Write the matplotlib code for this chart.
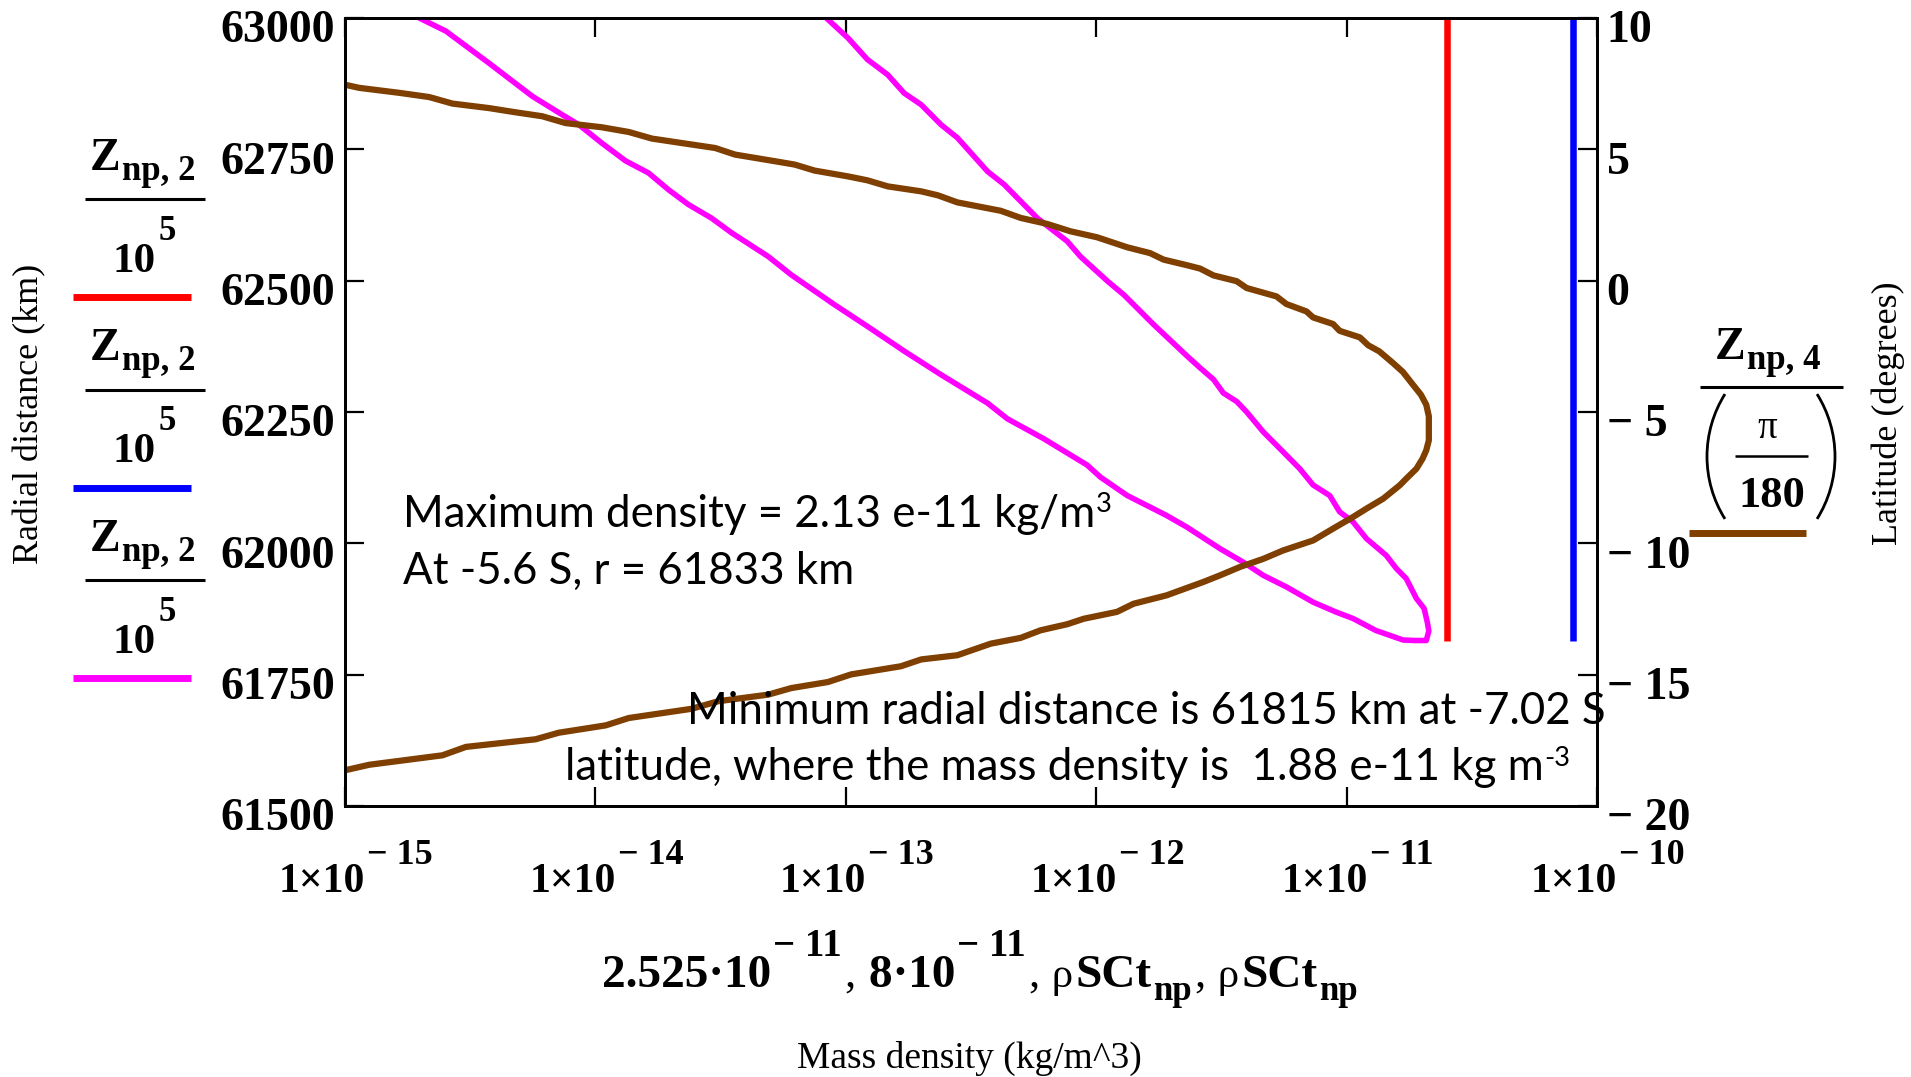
import matplotlib
matplotlib.use('Agg')
import matplotlib.pyplot as plt
from matplotlib.transforms import IdentityTransform, ScaledTranslation
from matplotlib.lines import Line2D
from matplotlib.patches import Arc
from matplotlib.ticker import NullLocator

# ---------------- data ----------------
# magenta trace: mass density along the trajectory vs radial distance (km)
magenta_rho = [1.98e-15, 2.53e-15, 3.76e-15, 5.60e-15, 7.36e-15, 8.58e-15, 1.06e-14, 1.32e-14,
               1.63e-14, 1.96e-14, 2.35e-14, 2.91e-14, 3.50e-14, 4.90e-14, 6.06e-14, 9.03e-14,
               1.22e-13, 1.71e-13, 2.40e-13, 3.68e-13, 4.42e-13, 6.18e-13, 9.20e-13, 1.04e-12,
               1.33e-12, 1.91e-12, 2.30e-12, 3.12e-12, 3.87e-12, 4.65e-12, 5.75e-12, 7.35e-12,
               9.10e-12, 1.06e-11, 1.31e-11, 1.68e-11, 1.88e-11, 2.08e-11, 2.13e-11, 2.10e-11,
               2.04e-11, 1.90e-11, 1.73e-11, 1.58e-11, 1.44e-11, 1.20e-11, 1.06e-11, 9.38e-12,
               8.56e-12, 7.35e-12, 6.50e-12, 5.58e-12, 4.65e-12, 3.99e-12, 3.64e-12, 3.22e-12,
               2.94e-12, 2.60e-12, 2.30e-12, 1.70e-12, 1.29e-12, 1.11e-12, 8.65e-13, 7.66e-13,
               5.82e-13, 4.29e-13, 3.68e-13, 2.79e-13, 2.40e-13, 2.00e-13, 1.71e-13, 1.47e-13,
               1.22e-13, 1.02e-13, 8.36e-14]
magenta_r = [63000, 62975, 62914, 62851, 62816, 62797, 62762, 62728, 62705, 62673, 62645, 62619,
             62591, 62546, 62511, 62454, 62413, 62366, 62321, 62267, 62237, 62199, 62149, 62126,
             62091, 62053, 62031, 61990, 61964, 61939, 61917, 61888, 61869, 61857, 61834, 61816,
             61815, 61815, 61833, 61850, 61876, 61895, 61933, 61952, 61977, 62009, 62041, 62060,
             62091, 62111, 62142, 62174, 62212, 62250, 62270, 62286, 62312, 62334, 62357, 62416,
             62473, 62499, 62546, 62575, 62619, 62683, 62708, 62772, 62797, 62835, 62857, 62892,
             62921, 62962, 63000]

# brown trace: mass density vs latitude (degrees), right axis
brown_rho = [1.0e-15, 1.14e-15, 1.65e-15, 2.17e-15, 2.69e-15, 3.76e-15, 4.80e-15, 6.13e-15,
             7.60e-15, 1.06e-14, 1.36e-14, 1.68e-14, 2.21e-14, 3.01e-14, 3.61e-14, 4.90e-14,
             6.25e-14, 7.51e-14, 1.02e-13, 1.22e-13, 1.47e-13, 2.00e-13, 2.33e-13, 2.79e-13,
             4.16e-13, 4.99e-13, 6.37e-13, 7.89e-13, 1.01e-12, 1.33e-12, 1.64e-12, 1.86e-12,
             2.30e-12, 2.60e-12, 2.94e-12, 3.64e-12, 3.99e-12, 5.25e-12, 5.75e-12, 6.91e-12,
             7.35e-12, 8.83e-12, 9.38e-12, 1.13e-11, 1.22e-11, 1.35e-11, 1.53e-11, 1.68e-11,
             1.84e-11, 1.98e-11, 2.08e-11, 2.13e-11, 2.13e-11, 2.08e-11, 2.01e-11, 1.90e-11,
             1.73e-11, 1.63e-11, 1.40e-11, 1.20e-11, 1.06e-11, 8.83e-12, 7.35e-12, 5.58e-12,
             4.65e-12, 3.75e-12, 3.12e-12, 2.68e-12, 2.30e-12, 1.91e-12, 1.41e-12, 1.21e-12,
             8.93e-13, 7.66e-13, 6.00e-13, 4.99e-13, 3.79e-13, 2.79e-13, 2.00e-13, 1.66e-13,
             1.05e-13, 8.49e-14, 6.06e-14, 4.90e-14, 3.10e-14, 2.42e-14, 1.36e-14, 1.10e-14,
             7.14e-15, 5.77e-15, 3.04e-15, 2.45e-15, 1.25e-15, 1.0e-15]
brown_lat = [7.46, 7.34, 7.15, 6.99, 6.74, 6.57, 6.41, 6.26, 6.00, 5.84, 5.66, 5.41, 5.24, 5.05,
             4.80, 4.59, 4.42, 4.19, 3.97, 3.82, 3.59, 3.40, 3.25, 2.98, 2.66, 2.39, 2.16, 1.88,
             1.65, 1.27, 1.05, 0.80, 0.59, 0.46, 0.20, -0.02, -0.28, -0.60, -0.89, -1.17, -1.40,
             -1.65, -1.91, -2.16, -2.46, -2.69, -3.13, -3.48, -3.96, -4.34, -4.72, -5.16, -6.08,
             -6.46, -6.78, -7.16, -7.54, -7.79, -8.30, -8.68, -9.00, -9.44, -9.89, -10.27,
             -10.59, -10.90, -11.22, -11.47, -11.70, -11.98, -12.30, -12.61, -12.87, -13.08,
             -13.31, -13.60, -13.82, -14.26, -14.42, -14.68, -14.99, -15.28, -15.51, -15.76,
             -16.01, -16.30, -16.65, -16.93, -17.21, -17.46, -17.75, -18.07, -18.43, -18.64]

# constant-density reference traces (red and blue), from r_min upward
red_rho = 2.525e-11
blue_rho = 8e-11
const_r = [61815, 63000]

x_ticks = [1e-15, 1e-14, 1e-13, 1e-12, 1e-11, 1e-10]
x_tick_exps = [-15, -14, -13, -12, -11, -10]
r_ticks = [61500, 61750, 62000, 62250, 62500, 62750, 63000]
lat_ticks = [-20, -15, -10, -5, 0, 5, 10]

ann_lines = ["Maximum density = 2.13 e-11 kg/m",
             "At -5.6 S, r = 61833 km",
             "Minimum radial distance is 61815 km at -7.02 S",
             "latitude, where the mass density is  1.88 e-11 kg m"]

# ---------------- figure ----------------
W, H = 1911, 1077
SERIF = 'Liberation Serif'
SANS = 'Lato'
MAG, BRN, RED, BLU = '#FF00FF', '#7F3F00', '#FF0000', '#0000FF'

fig = plt.figure(figsize=(W / 100, H / 100), dpi=100)
ax = fig.add_axes([345 / W, 1 - 806 / H, (1597 - 345) / W, (806 - 18) / H])
ax.set_xscale('log')
ax2 = ax.twinx()

ax.plot(magenta_rho, magenta_r, color=MAG, lw=4.0, solid_joinstyle='round', zorder=3)
ax.plot([red_rho, red_rho], const_r, color=RED, lw=4.7, solid_capstyle='butt', zorder=3)
ax.plot([blue_rho, blue_rho], const_r, color=BLU, lw=4.7, solid_capstyle='butt', zorder=3)
ax2.plot(brown_rho, brown_lat, color=BRN, lw=4.5, solid_joinstyle='round')

ax.set_xlim(1e-15, 1e-10)
ax.set_ylim(61500, 63000)
ax2.set_ylim(-20, 10)

ax.set_xticks(x_ticks)
ax.set_xticklabels([''] * len(x_ticks))
ax.xaxis.set_minor_locator(NullLocator())
ax.set_yticks(r_ticks)
ax.set_yticklabels([str(v) for v in r_ticks], fontsize=33, fontweight='bold', family=SERIF)
ax2.set_yticks(lat_ticks)
ax2.set_yticklabels([(u"\u2212 %d" % abs(v)) if v < 0 else str(v) for v in lat_ticks],
                    fontsize=33, fontweight='bold', family=SERIF)

ax.tick_params(axis='x', which='major', direction='in', length=14, width=1.6,
               top=True, bottom=True)
ax.tick_params(axis='y', direction='in', length=14, width=1.6, left=True, right=False, pad=7)
ax2.tick_params(axis='y', direction='in', length=14, width=1.6, right=True, left=False, pad=7)
for a in (ax, ax2):
    for sp in a.spines.values():
        sp.set_linewidth(2.0)

shift = ScaledTranslation(0, -0.085, fig.dpi_scale_trans)
for lab in ax.get_yticklabels() + ax2.get_yticklabels():
    lab.set_transform(lab.get_transform() + shift)

renderer = fig.canvas.get_renderer()
IDT = IdentityTransform()


def rich(x, y, pieces, ha='left', gap=0.0):
    """pieces: (text, size, rise_px, weight, family); y = baseline (px from top)."""
    made = []
    cur = 0.0
    for s, fs, rise, wt, fam in pieces:
        t = fig.text(0, H - y + rise, s, transform=IDT, fontsize=fs, fontweight=wt,
                     family=fam, va='baseline', ha='left', zorder=5)
        w = t.get_window_extent(renderer).width
        made.append((t, cur))
        cur += w + gap
    total = cur - gap
    x0 = x - total / 2 if ha == 'center' else x
    for t, c in made:
        t.set_x(x0 + c)
    return made


def hline(x0, x1, y, color, lw):
    fig.add_artist(Line2D([x0, x1], [H - y, H - y], transform=IDT, color=color, lw=lw,
                          solid_capstyle='butt'))


# x tick labels 1x10^-n
for v, e in zip(x_ticks, x_tick_exps):
    xd = ax.transData.transform((v, 61500))[0]
    rich(xd + 11, 892, [(u"1\u00d710", 30, 0, 'bold', SERIF),
                        (u"\u2212 %d" % abs(e), 26, 28, 'bold', SERIF)], ha='center', gap=2)

# x expression label
rich(602, 987, [(u"2.525\u00b710", 34, 0, 'bold', SERIF), (u"\u2212 11", 28, 31, 'bold', SERIF),
                (",", 32, 0, 'normal', SERIF), (u" 8\u00b710", 34, 0, 'bold', SERIF),
                (u"\u2212 11", 28, 31, 'bold', SERIF), (",", 32, 0, 'normal', SERIF),
                (u" \u03c1", 31, 0, 'normal', SERIF), ("SCt", 34, 0, 'bold', SERIF),
                ("np", 25, -13, 'bold', SERIF), (",", 32, 0, 'normal', SERIF),
                (u" \u03c1", 31, 0, 'normal', SERIF), ("SCt", 34, 0, 'bold', SERIF),
                ("np", 25, -13, 'bold', SERIF)], gap=2)

# axis titles
fig.text(969 / W, 1 - 1058 / H, "Mass density (kg/m^3)", ha='center', va='center',
         fontsize=27, family=SERIF)
fig.text(30 / W, 1 - 414 / H, "Radial distance (km)", ha='center', va='center',
         rotation=90, fontsize=26, family=SERIF)
fig.text(1888 / W, 1 - 413 / H, "Latitude (degrees)", ha='center', va='center',
         rotation=90, fontsize=26, family=SERIF)

# left trace labels (Z_np,2 / 10^5) with colour samples
for i, col in enumerate([RED, BLU, MAG]):
    dy = i * 190.5
    rich(90, 170 + dy, [("Z", 33, 0, 'bold', SERIF), ("np, 2", 25, -10, 'bold', SERIF)], gap=1)
    hline(85, 205, 199 + dy, 'black', 2.2)
    rich(113, 272 + dy, [("10", 31, 0, 'bold', SERIF), ("5", 25, 32, 'bold', SERIF)], gap=2)
    hline(73, 191, 297 + dy, col, 5.0)

# right trace label (Z_np,4 / (pi/180))
rich(1715, 359, [("Z", 33, 0, 'bold', SERIF), ("np, 4", 25, -10, 'bold', SERIF)], gap=1)
hline(1700, 1843, 386.5, 'black', 2.2)
rich(1767, 438, [(u"\u03c0", 28, 0, 'normal', SERIF)], ha='center')
hline(1735, 1808, 456, 'black', 1.8)
rich(1772, 507, [("180", 32, 0, 'bold', SERIF)], ha='center')
R_par = 117.5
fig.add_artist(Arc((1707 + R_par, H - 456.5), 2 * R_par, 2 * R_par, theta1=147.9, theta2=212.1,
                   transform=IDT, lw=2.0, color='black'))
fig.add_artist(Arc((1835 - R_par, H - 456.5), 2 * R_par, 2 * R_par, theta1=-32.1, theta2=32.1,
                   transform=IDT, lw=2.0, color='black'))
hline(1689, 1806, 533, BRN, 5.0)

# annotations (Calibri-like sans)
probe = fig.text(0, 0, ann_lines[2], fontsize=30, family=SANS, transform=IDT)
ann_fs = 30 * 916 / probe.get_window_extent(renderer).width
probe.remove()
rich(403, 527, [(ann_lines[0], ann_fs, 0, 'normal', SANS), ("3", ann_fs * 0.62, 15, 'normal', SANS)],
     gap=1)
rich(403, 584, [(ann_lines[1], ann_fs, 0, 'normal', SANS)])
rich(687, 724, [(ann_lines[2], ann_fs, 0, 'normal', SANS)])
rich(565, 780, [(ann_lines[3], ann_fs, 0, 'normal', SANS), ("-3", ann_fs * 0.62, 14, 'normal', SANS)],
     gap=1)

fig.savefig('out.png', dpi=100)
